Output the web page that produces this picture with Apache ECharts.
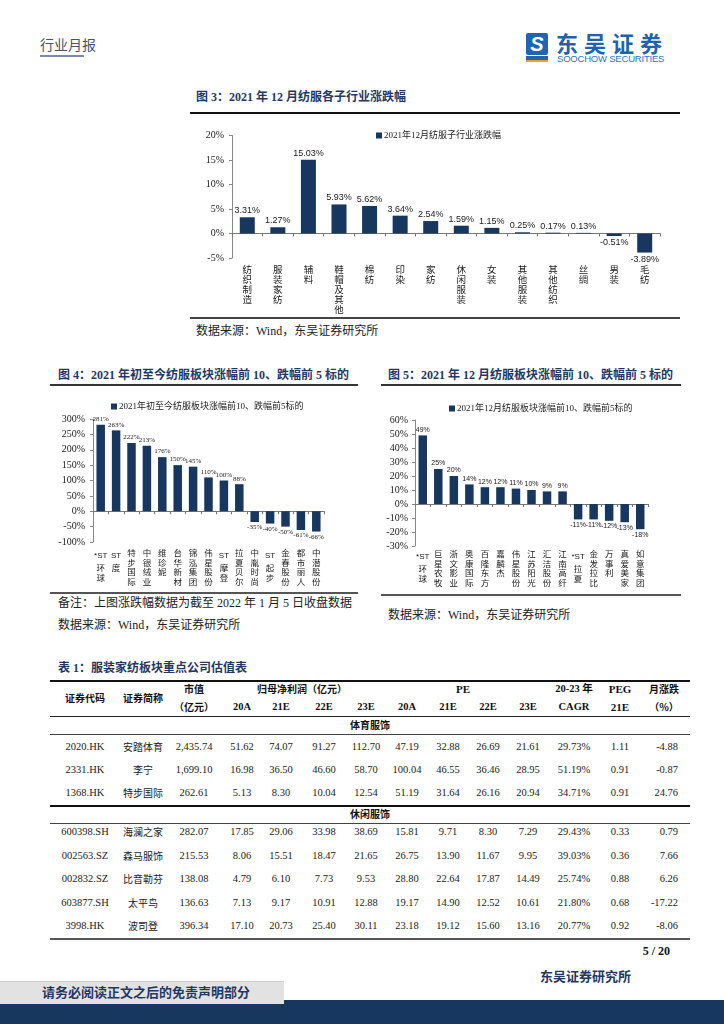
<!DOCTYPE html>
<html><head><meta charset="utf-8">
<script src="https://cdn.jsdelivr.net/npm/echarts@6/dist/echarts.min.js"></script>
<style>
body{margin:0;width:724px;height:1024px;position:relative;background:#fff;font-family:"Liberation Serif","Noto Sans CJK SC",serif;overflow:hidden}
.a{position:absolute;white-space:nowrap}
.title{position:absolute;font-weight:bold;font-size:12px;color:#1f3864;white-space:nowrap;line-height:14px}
.src{position:absolute;font-size:12px;color:#222;white-space:nowrap;line-height:14px}
.ln{position:absolute}
.c{position:absolute;white-space:nowrap;transform:translate(-50%,-50%);font-size:10.5px;color:#222;line-height:12px}
.r{position:absolute;white-space:nowrap;transform:translate(-100%,-50%);font-size:10.5px;color:#222;line-height:12px}
.h{font-weight:bold;color:#111}
.chart{position:absolute}
</style></head><body>

<!-- header -->
<div class="a" style="left:40px;top:36px;font-size:14px;color:#46526f;font-family:'Noto Sans CJK SC';line-height:16px">行业月报</div>
<div class="ln" style="left:40px;top:55px;width:44px;height:2px;background:#7a8aa8"></div>
<div class="a" style="left:526px;top:33px;width:22px;height:22px;background:#2165b0;border-radius:2px;color:#fff;font:bold italic 20px 'Liberation Sans';text-align:center;line-height:22px">S</div>
<div class="a" style="left:526px;top:56px;width:22px;height:4px;background:#2165b0"></div>
<div class="a" style="left:526px;top:60px;width:22px;height:2px;background:#f0a030"></div>
<div class="a" style="left:556px;top:29px;font-size:22px;font-weight:bold;color:#2062ad;letter-spacing:6px;font-family:'Noto Sans CJK SC';line-height:26px">东吴证券</div>
<div class="a" style="left:557px;top:54px;font-size:9.5px;color:#2f72c0;font-family:'Liberation Sans';line-height:10px;letter-spacing:-0.2px">SOOCHOW SECURITIES</div>

<!-- figure 3 -->
<div class="title" style="left:196px;top:90px">图 3：2021 年 12 月纺服各子行业涨跌幅</div>
<div class="ln" style="left:190px;top:112px;width:490px;height:2px;background:#111"></div>
<div id="c3" class="chart" style="left:190px;top:118px;width:490px;height:198px"></div>
<div class="ln" style="left:190px;top:317px;width:490px;height:2px;background:#444"></div>
<div class="src" style="left:196px;top:324px">数据来源：Wind，东吴证券研究所</div>

<!-- figure 4 -->
<div class="title" style="left:58px;top:368px">图 4：2021 年初至今纺服板块涨幅前 10、跌幅前 5 标的</div>
<div class="ln" style="left:50px;top:384px;width:308px;height:2px;background:#333"></div>
<div id="c4" class="chart" style="left:50px;top:388px;width:310px;height:204px"></div>
<div class="ln" style="left:50px;top:592px;width:308px;height:1.5px;background:#555"></div>
<div class="src" style="left:58px;top:596px">备注：上图涨跌幅数据为截至 2022 年 1 月 5 日收盘数据</div>
<div class="src" style="left:58px;top:618px">数据来源：Wind，东吴证券研究所</div>

<!-- figure 5 -->
<div class="title" style="left:388px;top:368px">图 5：2021 年 12 月纺服板块涨幅前 10、跌幅前 5 标的</div>
<div class="ln" style="left:381px;top:384px;width:300px;height:2px;background:#333"></div>
<div id="c5" class="chart" style="left:380px;top:388px;width:302px;height:206px"></div>
<div class="ln" style="left:381px;top:594px;width:300px;height:1.5px;background:#555"></div>
<div class="src" style="left:388px;top:608px">数据来源：Wind，东吴证券研究所</div>

<!-- table -->
<div class="title" style="left:58px;top:661px">表 1：服装家纺板块重点公司估值表</div>
<div id="tbl"></div>

<!-- footer -->
<div class="a" style="right:54px;top:944px;font-size:12px;font-weight:bold;color:#111;line-height:14px">5 / 20</div>
<div class="a" style="left:540px;top:968px;font-size:13px;font-weight:bold;color:#1f3864;font-family:'Noto Sans CJK SC';line-height:16px">东吴证券研究所</div>
<div class="a" style="left:0;top:1000px;width:724px;height:24px;background:#17375e"></div>
<div class="a" style="left:0;top:981px;width:284px;height:22px;background:#e2e2e2;border-top:1px solid #cfcfcf"></div>
<div class="a" style="left:42px;top:984px;font-size:13px;font-weight:bold;color:#1f3864;font-family:'Noto Sans CJK SC';line-height:16px">请务必阅读正文之后的免责声明部分</div>

<script>
// ---------- chart data ----------
const cats3 = ['纺织制造','服装家纺','辅料','鞋帽及其他','棉纺','印染','家纺','休闲服装','女装','其他服装','其他纺织','丝绸','男装','毛纺'];
const vals3 = [3.31,1.27,15.03,5.93,5.62,3.64,2.54,1.59,1.15,0.25,0.17,0.13,-0.51,-3.89];
const legend3 = '2021年12月纺服子行业涨跌幅';

const cats4 = ['*ST环球','ST度','特步国际','中银绒业','维珍妮','台华新材','锦泓集团','伟星股份','ST摩登','拉夏贝尔','中胤时尚','ST起步','金春股份','都市丽人','中潜股份'];
const vals4 = [281,263,222,213,176,150,145,110,100,88,-35,-40,-50,-61,-66];
const legend4 = '2021年初至今纺服板块涨幅前10、跌幅前5标的';

const cats5 = ['*ST环球','巨星农牧','浙文影业','奥康国际','百隆东方','嘉麟杰','伟星股份','江苏阳光','汇洁股份','江南高纤','*ST拉夏','金发拉比','万事利','真爱美家','如意集团'];
const vals5 = [49,25,20,14,12,12,11,10,9,9,-11,-11,-12,-13,-18];
const legend5 = '2021年12月纺服板块涨幅前10、跌幅前5标的';

// ---------- table data ----------
const codes = ['2020.HK','2331.HK','1368.HK','600398.SH','002563.SZ','002832.SZ','603877.SH','3998.HK'];
const names = ['安踏体育','李宁','特步国际','海澜之家','森马服饰','比音勒芬','太平鸟','波司登'];
const mcap  = ['2,435.74','1,699.10','262.61','282.07','215.53','138.08','136.63','396.34'];
const np20A = ['51.62','16.98','5.13','17.85','8.06','4.79','7.13','17.10'];
const np21E = ['74.07','36.50','8.30','29.06','15.51','6.10','9.17','20.73'];
const np22E = ['91.27','46.60','10.04','33.98','18.47','7.73','10.91','25.40'];
const np23E = ['112.70','58.70','12.54','38.69','21.65','9.53','12.88','30.11'];
const pe20A = ['47.19','100.04','51.19','15.81','26.75','28.80','19.17','23.18'];
const pe21E = ['32.88','46.55','31.64','9.71','13.90','22.64','14.90','19.12'];
const pe22E = ['26.69','36.46','26.16','8.30','11.67','17.87','12.52','15.60'];
const pe23E = ['21.61','28.95','20.94','7.29','9.95','14.49','10.61','13.16'];
const cagr  = ['29.73%','51.19%','34.71%','29.43%','39.03%','25.74%','21.80%','20.77%'];
const peg   = ['1.11','0.91','0.91','0.33','0.36','0.88','0.68','0.92'];
const chg   = ['-4.88','-0.87','24.76','0.79','7.66','6.26','-17.22','-8.06'];
const sections = ['体育服饰','休闲服饰'];

const BAR = '#17375e';
const CJK = "'Noto Sans CJK SC'";
function vert(s){
  return (s.match(/\*?ST|./g)||[]).map(t => /ST/.test(t) ? '{l|'+t+'}' : t).join('\n');
}

function barChart(id, o){
  const ch = echarts.init(document.getElementById(id), null, {renderer:'canvas'});
  ch.setOption({
    animation:false,
    legend:{data:[o.legend], left:o.legLeft, top:o.legTop, icon:'rect', itemWidth:6, itemHeight:6, itemGap:4,
      textStyle:{fontSize:o.legFont, color:'#222', fontFamily:"'Liberation Serif',"+CJK, padding:[0,0,0,-3]}},
    grid:{left:o.grid[0], top:o.grid[1], width:o.grid[2], height:o.grid[3], containLabel:false, outerBoundsMode:'none'},
    xAxis:{type:'category', data:o.cats,
      axisLine:{onZero:true, lineStyle:{color:'#777', width:1}},
      axisTick:{show:true, length:3, lineStyle:{color:'#777'}},
      axisLabel:{interval:0, margin:o.catMargin, formatter:vert, fontSize:o.catFont, lineHeight:o.catLH,
        color:'#222', fontFamily:CJK, verticalAlign:'top',
        rich:{l:{fontSize:8, lineHeight:o.stLH, fontFamily:"'Liberation Sans'", color:'#222'}}}},
    yAxis:{type:'value', min:o.min, max:o.max, interval:o.interval,
      axisLine:{show:true, lineStyle:{color:'#888'}},
      axisTick:{show:true, length:3, lineStyle:{color:'#888'}},
      splitLine:{show:false},
      axisLabel:{formatter:'{value}%', fontSize:10, color:'#222', margin:o.yMargin, fontFamily:"'Liberation Serif'"}},
    series:[{type:'bar', name:o.legend, barWidth:o.barWidth, itemStyle:{color:BAR},
      data:o.vals.map(v=>({value:v, label:{position: v>=0?'top':'bottom'}})),
      label:{show:true, distance:2, fontSize:o.valFont, color:'#222', fontFamily:o.valFamily,
        formatter:p=>o.fmt(p.value)}}]
  });
}

barChart('c3',{cats:cats3, vals:vals3, legend:legend3, legLeft:181, legTop:8, legFont:9,
  grid:[42,17.5,428,122.5], min:-5, max:20, interval:5, catMargin:6, catFont:9.5, catLH:10, stLH:14,
  yMargin:8, barWidth:15, valFont:9, valFamily:"'Liberation Sans'", fmt:v=>v.toFixed(2)+'%'});

barChart('c4',{cats:cats4, vals:vals4, legend:legend4, legLeft:56, legTop:9, legFont:9,
  grid:[43,31,231,123], min:-100, max:300, interval:50, catMargin:6, catFont:8.5, catLH:9.6, stLH:15,
  yMargin:8, barWidth:8.5, valFont:7, valFamily:"'Liberation Serif'", fmt:v=>v+'%'});

barChart('c5',{cats:cats5, vals:vals5, legend:legend5, legLeft:64, legTop:11, legFont:9,
  grid:[35,32,233,126], min:-30, max:60, interval:10, catMargin:3, catFont:8.5, catLH:9.6, stLH:15,
  yMargin:7, barWidth:8.5, valFont:7, valFamily:"'Liberation Sans'", fmt:v=>v+'%'});

// ---------- table ----------
(function(){
  const t = document.getElementById('tbl');
  let html = '';
  const cell = (x,y,txt,cls,extra) => { html += `<div class="${cls||'c'}" style="left:${x}px;top:${y}px;${extra||''}">${txt}</div>`; };
  const line = (y,h,col) => { html += `<div class="ln" style="left:50px;top:${y}px;width:640px;height:${h}px;background:${col}"></div>`; };
  const cx = [85,143,194,242,281,324,366,407,448,488,528,574,620];
  const cjkB = "font-family:'Noto Sans CJK SC';font-weight:bold;font-size:10px;";
  // header
  line(680,2,'#111');
  cell(cx[0],698,'证券代码','c h',cjkB);
  cell(cx[1],698,'证券简称','c h',cjkB);
  cell(cx[2],689,'市值','c h',cjkB);
  cell(cx[2],707,'（亿元）','c h',cjkB);
  cell(302,689,'归母净利润（亿元）','c h',cjkB);
  cell(463,689,'PE','c h','font-weight:bold;font-size:11px;');
  ['20A','21E','22E','23E'].forEach((s,i)=>{ cell(cx[3+i],707,s,'c h','font-weight:bold;font-size:10.5px;'); cell(cx[7+i],707,s,'c h','font-weight:bold;font-size:10.5px;'); });
  cell(cx[11],689,'20-23 年','c h','font-weight:bold;font-size:10.5px;');
  cell(cx[11],707,'CAGR','c h','font-weight:bold;font-size:10.5px;');
  cell(cx[12],689,'PEG','c h','font-weight:bold;font-size:11px;');
  cell(cx[12],707,'21E','c h','font-weight:bold;font-size:11px;');
  cell(664,689,'月涨跌','c h',cjkB);
  cell(664,707,'（%）','c h',cjkB);
  line(716,1,'#222');
  const rowsY = [747,770,793,832,855.5,879,902.5,926];
  cell(370,725,sections[0],'c h',cjkB);
  line(734,1,'#444');
  line(805,2,'#111');
  cell(370,814,sections[1],'c h',cjkB);
  line(823,1,'#444');
  line(938,2,'#555');
  const cols = [codes,names,mcap,np20A,np21E,np22E,np23E,pe20A,pe21E,pe22E,pe23E,cagr,peg];
  rowsY.forEach((y,r)=>{
    cols.forEach((col,ci)=>{
      cell(cx[ci],y,col[r],'c', ci===1 ? "font-family:'Noto Sans CJK SC';font-size:10px;" : '');
    });
    cell(678,y,chg[r],'r');
  });
  t.innerHTML = html;
})();
</script>
</body></html>
